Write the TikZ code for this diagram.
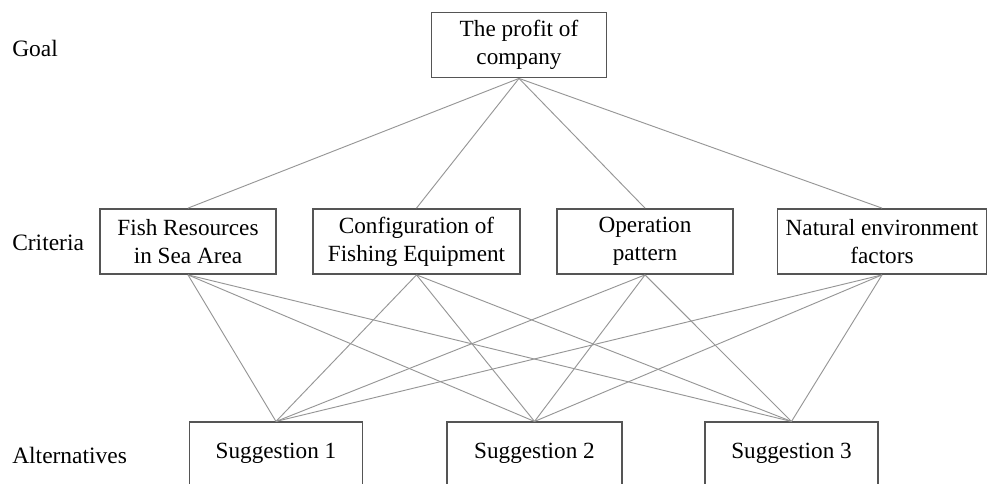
\documentclass[tikz,border=0pt]{standalone}
\usepackage{fontspec}
\setmainfont{Liberation Serif}
\tikzset{
  lvlbox/.style={draw={rgb, 255:red, 85; green, 85; blue, 85 }, line width=1.1pt, fill={rgb, 255:red, 255; green, 255; blue, 255 }, fill opacity=1, inner sep=0pt, align=center, font=\fontsize{17.4}{21}\selectfont},
  lvltext/.style={anchor=west, inner sep=0pt, font=\fontsize{17.6}{21}\selectfont},
  link/.style={draw={rgb, 255:red, 150; green, 150; blue, 150 }, line width=0.7pt}
}
\begin{document}
\begin{tikzpicture}[x=0.75pt,y=0.75pt,yscale=-1,xscale=1]
\useasboundingbox (0,0) rectangle (988,483);
\clip (0,0) rectangle (988,483);
%Text Node
\node[lvltext] (goallbl) at (12,48) {Goal};
%Text Node
\node[lvltext] (critlbl) at (12,243) {Criteria};
%Text Node
\node[lvltext] (altlbl) at (12,455) {Alternatives};
%Shape: Rectangle
\node[lvlbox, minimum width=131pt, minimum height=49pt] (profit) at (519,45) {The profit of\\company};
%Shape: Rectangle
\node[lvlbox, minimum width=132pt, minimum height=49pt] (fish) at (188,241.5) {Fish Resources\\in Sea Area};
%Shape: Rectangle
\node[lvlbox, minimum width=155pt, minimum height=49pt] (config) at (416.5,241.5) {Configuration of\\Fishing Equipment};
%Shape: Rectangle
\node[lvlbox, minimum width=132pt, minimum height=49pt] (operat) at (645,241.5) {Operation\\pattern};
%Shape: Rectangle
\node[lvlbox, minimum width=157pt, minimum height=49pt] (nature) at (882,241.5) {Natural environment\\factors};
%Shape: Rectangle
\node[lvlbox, minimum width=130pt, minimum height=47pt] (sugg1) at (276,453.5) {Suggestion 1};
%Shape: Rectangle
\node[lvlbox, minimum width=131pt, minimum height=47pt] (sugg2) at (534.5,453.5) {Suggestion 2};
%Shape: Rectangle
\node[lvlbox, minimum width=130pt, minimum height=47pt] (sugg3) at (791.5,453.5) {Suggestion 3};
%Straight Lines
\draw[link] (profit.south) -- (fish.north) ;
%Straight Lines
\draw[link] (profit.south) -- (config.north) ;
%Straight Lines
\draw[link] (profit.south) -- (operat.north) ;
%Straight Lines
\draw[link] (profit.south) -- (nature.north) ;
%Straight Lines
\draw[link] (fish.south) -- (sugg1.north) ;
%Straight Lines
\draw[link] (fish.south) -- (sugg2.north) ;
%Straight Lines
\draw[link] (fish.south) -- (sugg3.north) ;
%Straight Lines
\draw[link] (config.south) -- (sugg1.north) ;
%Straight Lines
\draw[link] (config.south) -- (sugg2.north) ;
%Straight Lines
\draw[link] (config.south) -- (sugg3.north) ;
%Straight Lines
\draw[link] (operat.south) -- (sugg1.north) ;
%Straight Lines
\draw[link] (operat.south) -- (sugg2.north) ;
%Straight Lines
\draw[link] (operat.south) -- (sugg3.north) ;
%Straight Lines
\draw[link] (nature.south) -- (sugg1.north) ;
%Straight Lines
\draw[link] (nature.south) -- (sugg2.north) ;
%Straight Lines
\draw[link] (nature.south) -- (sugg3.north) ;
\end{tikzpicture}
\end{document}
